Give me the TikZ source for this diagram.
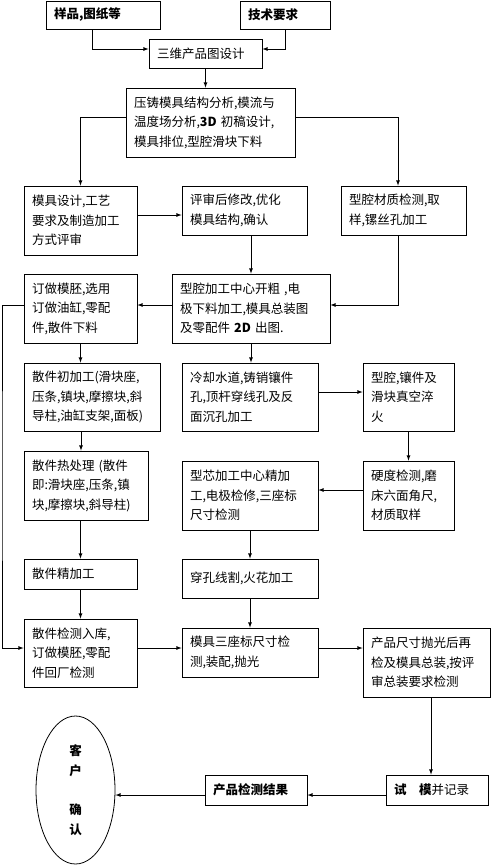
\documentclass[tikz,border=0pt]{standalone}
\usepackage{fontspec}
\setmainfont{Noto Sans CJK SC}
\usetikzlibrary{calc,shapes.geometric}

\begin{document}
\begin{tikzpicture}[x=1pt, y=-1pt, line width=0.8pt,
    box/.style 2 args={rectangle, draw, minimum width=#1, minimum height=#2, text width=#1-16, inner xsep=8pt, inner ysep=2pt, align=left, font=\fontsize{12.5}{19.5}\selectfont},
    heavy/.style={font=\fontsize{12.5}{19.5}\selectfont\bfseries},
    arrow/.style={draw, -latex}]
    \useasboundingbox (0,0) rectangle (500,865);
    % Place nodes
    \node [box={114}{28}, heavy] (A) at (103,15) {样品,图纸等};
    \node [box={90}{28}, heavy] (B) at (285,15) {技术要求};
    \node [box={113}{29}] (C) at (205.5,53.5) {三维产品图设计};
    \node [box={169}{69}] (D) at (210.5,122.5) {压铸模具结构分析,模流与\\温度场分析,\textbf{3D}\ 初稿设计,\\模具排位,型腔滑块下料};
    \node [box={113}{69}] (E) at (80.5,220.5) {模具设计,工艺\\要求及制造加工\\方式评审};
    \node [box={125}{49}] (F) at (244.5,210.5) {评审后修改,优化\\模具结构,确认};
    \node [box={125}{49}] (G) at (403.5,210.5) {型腔材质检测,取\\样,镙丝孔加工};
    \node [box={158}{69}] (H) at (251,308.5) {型腔加工中心开粗 ,电\\极下料加工,模具总装图\\及零配件 \textbf{2D} 出图.};
    \node [box={113}{69}] (I) at (80.5,308.5) {订做模胚,选用\\订做油缸,零配\\件,散件下料};
    \node [box={136}{68}] (J) at (92,397) {散件初加工(滑块座,\\压条,镇块,摩擦块,斜\\导柱,油缸支架,面板)};
    \node [box={136}{68}] (K) at (250,397) {冷却水道,铸销镶件\\孔,顶杆穿线孔及反\\面沉孔加工};
    \node [box={91}{68}] (L) at (408.5,397) {型腔,镶件及\\滑块真空淬\\火};
    \node [box={124}{69}] (M) at (86,485.5) {散件热处理 (散件\\即:滑块座,压条,镇\\块,摩擦块,斜导柱)};
    \node [box={136}{69}] (N) at (250,495.5) {型芯加工中心精加\\工,电极检修,三座标\\尺寸检测};
    \node [box={91}{69}] (O) at (408.5,495.5) {硬度检测,磨\\床六面角尺,\\材质取样};
    \node [box={113}{30}] (P) at (80.5,574) {散件精加工};
    \node [box={136}{39}] (Q) at (250,578.5) {穿孔线割,火花加工};
    \node [box={113}{68}] (R) at (80.5,653) {散件检测入库,\\订做模胚,零配\\件回厂检测};
    \node [box={136}{49}] (S) at (250,652.5) {模具三座标尺寸检\\测,装配,抛光};
    \node [box={127}{69}] (T) at (426.5,662.5) {产品尺寸抛光后再\\检及模具总装,按评\\审总装要求检测};
    \node [box={102}{30}] (U) at (437,790) {\textbf{试\quad 模}并记录};
    \node [box={102}{30}, heavy] (V) at (256,790) {产品检测结果};
    \node [ellipse, draw, minimum width=79pt, minimum height=148pt, align=center, heavy] (W) at (75.5,790) {客\\户\\[20pt]确\\认};
    \coordinate (loop) at (2,475);
    % Connectors
    \path [arrow] (A.south -| 92,0) |- (C.west |- 0,49);
    \path [arrow] (B.south) |- (C.east |- 0,49);
    \path [arrow] (C.south) -- (C.south |- D.north);
    \path [arrow] (D.west |- 0,117) -| (E.north);
    \path [arrow] (D.east |- 0,117) -| (G.north -| 398,0);
    \path [arrow] (E.east |- 0,215) -- (F.west |- 0,215);
    \path [arrow] (F.south -| H.north) -- (H.north);
    \path [arrow] (G.south -| 398,0) |- (H.east |- 0,305);
    \path [arrow] (H.west |- 0,305) -- (I.east |- 0,305);
    \path [arrow] (I.west |- 0,305) -| (loop) |- (R.west |- 0,648);
    \path [arrow] (I.south) -- (I.south |- J.north);
    \path [arrow] (H.south) -- (H.south |- K.north);
    \path [arrow] (K.east |- 0,392) -- (L.west |- 0,392);
    \path [arrow] (J.south -| 81,0) -- (M.north -| 81,0);
    \path [arrow] (L.south) -- (O.north);
    \path [arrow] (O.west |- 0,490) -- (N.east |- 0,490);
    \path [arrow] (M.south -| P.north) -- (P.north);
    \path [arrow] (N.south) -- (N.south |- Q.north);
    \path [arrow] (P.south) -- (R.north);
    \path [arrow] (Q.south) -- (Q.south |- S.north);
    \path [arrow] (R.east |- 0,648) -- (S.west |- 0,648);
    \path [arrow] (S.east |- 0,648) -- (T.west |- 0,648);
    \path [arrow] (T.south -| 431,0) -- (U.north -| 431,0);
    \path [arrow] (U.west |- 0,795) -- (V.east |- 0,795);
    \path [arrow] (V.west |- 0,795) -- (W.east |- 0,795);
\end{tikzpicture}
\end{document}
